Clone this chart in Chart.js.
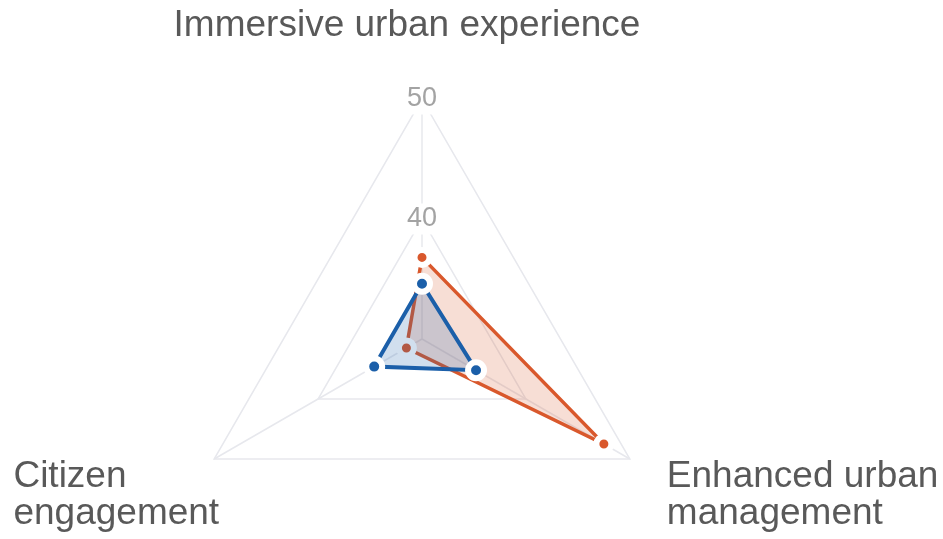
<!DOCTYPE html>
<html>
<head>
<meta charset="utf-8">
<script src="https://cdn.jsdelivr.net/npm/chart.js@4.4.1/dist/chart.umd.min.js"></script>
<style>
  html, body { margin: 0; padding: 0; background: #fff; }
  #wrap { width: 943px; height: 539px; }
</style>
</head>
<body>
<div id="wrap"><canvas id="radar"></canvas></div>
<script>
// ── Data ─────────────────────────────────────────────────────
const axisLabels = [
  ['Immersive urban experience'],
  ['Enhanced urban', 'management'],
  ['Citizen', 'engagement']
];
const blueValues = [34.6, 35.2, 34.6];
const orangeValues = [36.8, 47.5, 31.5];
const scaleMin = 30;
const scaleMax = 50;
const scaleStep = 10;

const BLUE = '#1b5fa9';
const ORANGE = '#d9582c';
const LABEL_FONT = '37px "Liberation Sans", Arial, sans-serif';
const LINE_GAP = 36.5;

// ── Axis labels (left-aligned blocks, like the original) ─────
const axisLabelPlugin = {
  id: 'axisLabels',
  afterDraw(chart) {
    const scale = chart.scales.r;
    const c = chart.ctx;
    c.save();
    c.font = LABEL_FONT;
    c.fillStyle = '#595959';
    c.textBaseline = 'alphabetic';
    axisLabels.forEach((lines, i) => {
      const v = scale.getPointPosition(i, scale.drawingArea);
      const w = Math.max(...lines.map(l => c.measureText(l).width));
      let x, y;
      if (i === 0) {
        c.textAlign = 'center';
        x = v.x - 15;
        y = v.y - 63;
      } else if (v.x > scale.xCenter) {
        c.textAlign = 'left';
        x = v.x + 37;
        y = v.y + 28;
      } else {
        c.textAlign = 'left';
        x = v.x + 5 - w;
        y = v.y + 28;
      }
      lines.forEach((line, k) => c.fillText(line, x, y + k * LINE_GAP));
    });
    c.restore();
  }
};

// ── Chart ────────────────────────────────────────────────────
const ctx = document.getElementById('radar').getContext('2d');
new Chart(ctx, {
  type: 'radar',
  data: {
    labels: axisLabels,
    datasets: [{
      label: 'Series 1',
      data: blueValues,
      borderColor: BLUE,
      backgroundColor: 'rgba(27,95,169,0.2)',
      borderWidth: 4,
      pointRadius: 8,
      pointBorderWidth: 6,
      pointBorderColor: '#fff',
      pointBackgroundColor: BLUE,
      fill: true
    }, {
      label: 'Series 2',
      data: orangeValues,
      borderColor: ORANGE,
      backgroundColor: 'rgba(217,88,44,0.2)',
      borderWidth: 3.5,
      pointRadius: 7.5,
      pointBorderWidth: 6,
      pointBorderColor: '#fff',
      pointBackgroundColor: ORANGE,
      fill: true
    }]
  },
  options: {
    responsive: true,
    maintainAspectRatio: false,
    animation: false,
    plugins: {
      legend: { display: false },
      tooltip: { enabled: false }
    },
    scales: {
      r: {
        min: scaleMin,
        max: scaleMax,
        // pin the web's centre and size so the labels have room like the original
        afterFit(scale) {
          scale.xCenter = 422;
          scale.yCenter = 339;
          scale.drawingArea = 240;
        },
        ticks: {
          stepSize: scaleStep,
          color: '#a3a3a3',
          font: { family: 'Liberation Sans', size: 27 },
          backdropColor: '#fff'
        },
        grid: { color: '#e7e8ed', lineWidth: 1.5 },
        angleLines: { color: '#e7e8ed', lineWidth: 1.5 },
        pointLabels: { display: false }
      }
    }
  },
  plugins: [axisLabelPlugin]
});
</script>
</body>
</html>
